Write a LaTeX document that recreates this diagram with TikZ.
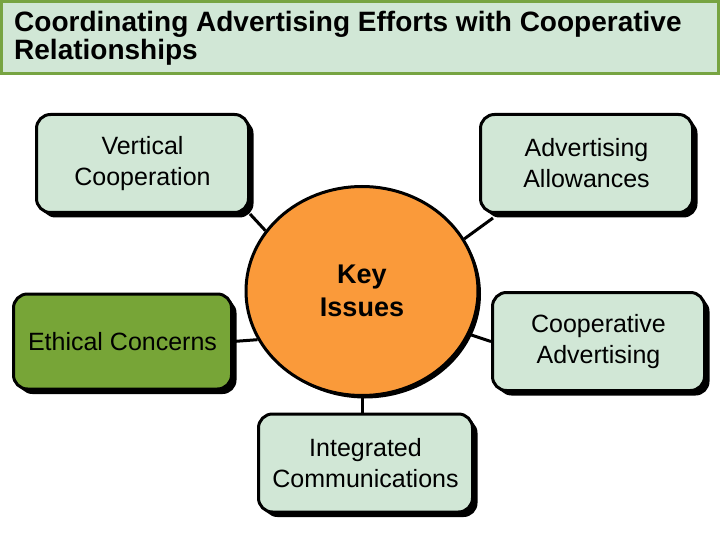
\documentclass[tikz,border=0pt]{standalone}
\usepackage{fontspec}
\setmainfont{Liberation Sans}
\usetikzlibrary{shapes.geometric,shadows}
\definecolor{paleg}{HTML}{D1E7D6}
\definecolor{olive}{HTML}{77A537}
\definecolor{titleg}{HTML}{77A442}
\definecolor{orng}{HTML}{FA9A3A}
\tikzset{
  topicbox/.style={draw=black, line width=3pt, rounded corners=14pt, fill=paleg,
    minimum width=212pt, minimum height=98pt, inner sep=0pt, align=center,
    font=\fontsize{25}{31}\selectfont,
    drop shadow={shadow xshift=5pt, shadow yshift=-5pt, opacity=1, fill=black}},
  link/.style={draw=black, line width=3pt},
}
\begin{document}
\begin{tikzpicture}[x=1pt,y=-1pt]
\useasboundingbox (0,0) rectangle (720,540);
\fill[white] (0,0) rectangle (720,540);
% title
\draw[titleg, fill=paleg, line width=3pt] (1.5,1.5) rectangle (718.5,73.5);
\node[anchor=north west, inner sep=0pt, align=left, font=\fontsize{28}{28.5}\selectfont\bfseries] (title) at (14,11) {Coordinating Advertising Efforts with Cooperative\\Relationships};
% centre
\node[ellipse, draw=black, line width=3pt, fill=orng, minimum width=232pt, minimum height=209pt, inner sep=0pt, align=center,
  font=\fontsize{27}{33}\selectfont\bfseries,
  drop shadow={shadow xshift=3pt, shadow yshift=-3pt, opacity=1, fill=black}] (key) at (362,291) {Key\\Issues};
% topics
\node[topicbox] (vc) at (142.5,163.5) {Vertical\\Cooperation};
\node[topicbox] (aa) at (586.5,163.5) {Advertising\\Allowances};
\node[topicbox, fill=olive, minimum width=218pt, minimum height=95pt] (ec) at (122.5,341.5) {Ethical Concerns};
\node[topicbox] (ca) at (598.5,341.5) {Cooperative\\Advertising};
\node[topicbox, minimum width=214pt] (ic) at (365.5,463) {Integrated\\Communications};
% connectors
\draw[link] (vc.south east) -- (key.148);
\draw[link] (aa.south west) ++(14,4) coordinate (aac) -- (key.27);
\draw[link] (ec.east) -- (key.205);
\draw[link] (ca.west) -- (key.338);
\draw[link] (key.south) -- (ic.north -| key.south);
\end{tikzpicture}
\end{document}
